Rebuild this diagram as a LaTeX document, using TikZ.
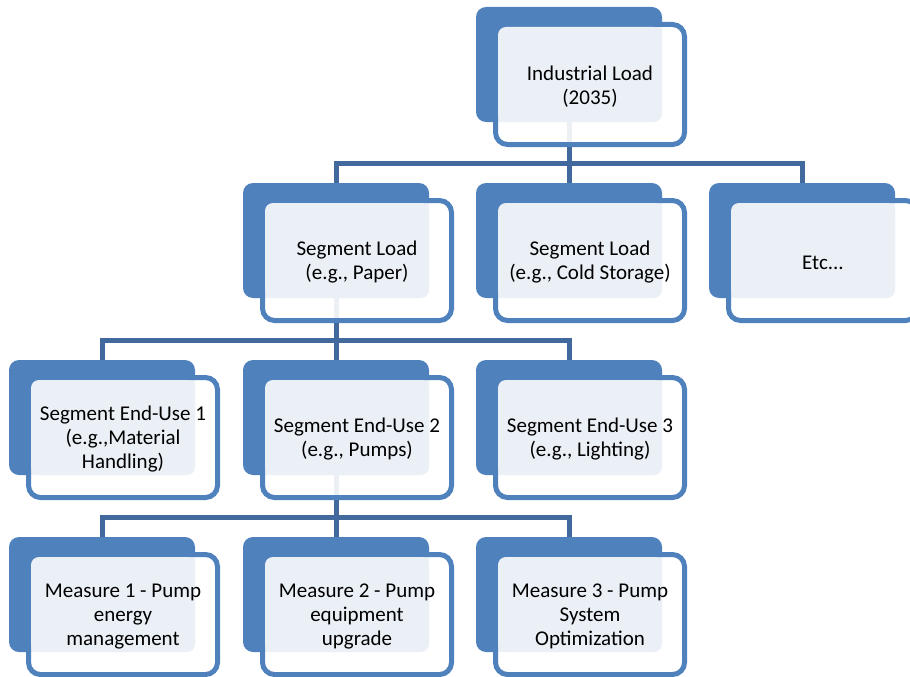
\documentclass[tikz,border=0pt]{standalone}
\usepackage{fontspec}
\setmainfont{Carlito}
\usetikzlibrary{positioning}
\pgfdeclarelayer{background}
\pgfsetlayers{background,main}

\definecolor{boxblue}{HTML}{4F81BD}
\definecolor{linkblue}{HTML}{41699E}
\definecolor{paleblue}{HTML}{EBF0F7}

\tikzset{
  backbox/.style={fill=boxblue, rounded corners=10pt, minimum width=186pt,
    minimum height=115pt, inner sep=0pt, outer sep=0pt, anchor=north west},
  frontbox/.style={draw=boxblue, line width=5pt, fill=white, fill opacity=0.9,
    rounded corners=12pt, minimum width=189pt, minimum height=120pt,
    inner sep=0pt, outer sep=0pt},
  textbox/.style={fill=paleblue, rounded corners=8pt},
  boxtext/.style={align=center, text=black, yshift=-2pt,
    font=\fontsize{21}{24}\selectfont},
  link/.style={draw=linkblue, line width=5pt}
}

% back block, framed block, pale text panel and its text
\newcommand{\stackbox}[4]{%
  \node[backbox] (#1) at (#2,#3) {};
  \node[frontbox, below right=17.5pt and 19.5pt of #1.north west] (#1-f) {};
  \fill[textbox] ([shift={(2.5pt,-2.5pt)}]#1-f.north west) rectangle (#1.south east);
  \node[boxtext] (#1-t) at (#1-f.center) {#4};
}

\begin{document}
\begin{tikzpicture}[x=1pt,y=-1pt]
\useasboundingbox (0,0) rectangle (910,677);

% Top level
\stackbox{ind}{476}{7}{Industrial Load\\(2035)}

% Segments
\stackbox{paper}{243}{183}{Segment Load\\(e.g., Paper)}
\stackbox{cold}{476}{183}{Segment Load\\(e.g., Cold Storage)}
\stackbox{etc}{709}{183}{Etc...}

% End-uses
\stackbox{use1}{9}{360}{Segment End-Use 1\\(e.g.,Material\\Handling)}
\stackbox{use2}{243}{360}{Segment End-Use 2\\(e.g., Pumps)}
\stackbox{use3}{476}{360}{Segment End-Use 3\\(e.g., Lighting)}

% Measures
\stackbox{meas1}{9}{537}{Measure 1 - Pump\\energy\\management}
\stackbox{meas2}{243}{537}{Measure 2 - Pump\\equipment\\upgrade}
\stackbox{meas3}{476}{537}{Measure 3 - Pump\\System\\Optimization}

% Connectors, drawn below the blocks
\begin{pgfonlayer}{background}
\coordinate (bus1) at (ind.south |- 0,163);
\draw[link] (ind.south) -- (bus1);
\draw[link] (paper.north) |- (bus1) -| (etc.north);
\draw[link] (bus1) -- (cold.north);

\coordinate (bus2) at (paper.south |- 0,340.5);
\draw[link] (paper.south) -- (bus2);
\draw[link] (use1.north) |- (bus2) -| (use3.north);
\draw[link] (bus2) -- (use2.north);

\coordinate (bus3) at (use2.south |- 0,517);
\draw[link] (use2.south) -- (bus3);
\draw[link] (meas1.north) |- (bus3) -| (meas3.north);
\draw[link] (bus3) -- (meas2.north);
\end{pgfonlayer}

\end{tikzpicture}
\end{document}
